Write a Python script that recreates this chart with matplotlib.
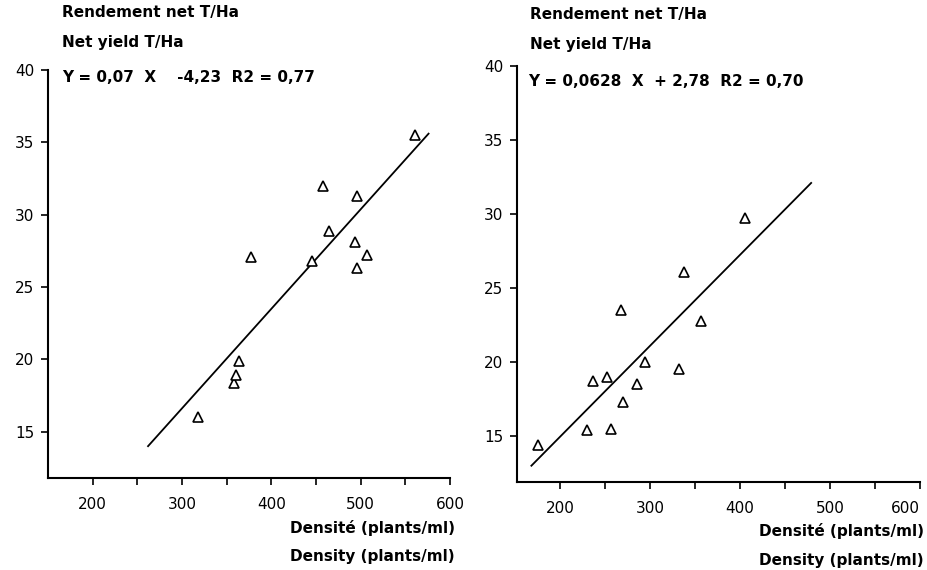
import matplotlib
matplotlib.use("Agg")
import matplotlib.pyplot as plt
from matplotlib.ticker import FixedLocator

# left panel: density vs net yield
left_density = [318, 358, 360, 364, 377, 446, 458, 464, 494, 496, 496, 507, 561]
left_yield = [16.0, 18.4, 18.9, 19.9, 27.1, 26.8, 32.0, 28.9, 28.1, 31.3, 26.3, 27.2, 35.5]
left_fit_x = [262, 576]
left_fit_y = [14.0, 35.6]
left_eq = "Y = 0,07  X    -4,23  R2 = 0,77"

# right panel
right_density = [175, 230, 236, 252, 257, 270, 268, 285, 294, 332, 338, 357, 405]
right_yield = [14.4, 15.4, 18.7, 19.0, 15.5, 17.3, 23.5, 18.5, 20.0, 19.5, 26.1, 22.8, 29.7]
right_fit_x = [168, 479]
right_fit_y = [13.0, 32.1]
right_eq = "Y = 0,0628  X  + 2,78  R2 = 0,70"

x_ticks = [200, 300, 400, 500, 600]
x_minor = [250, 350, 450, 550]
y_ticks = [15, 20, 25, 30, 35, 40]

ylabel_fr = "Rendement net T/Ha"
ylabel_en = "Net yield T/Ha"
xlabel_fr = "Densité (plants/ml)"
xlabel_en = "Density (plants/ml)"

W, H = 928, 570
fig = plt.figure(figsize=(W / 100, H / 100), dpi=100)


def px_axes(x0, y0, x1, y1):
    # pixel box (left, top, right, bottom) -> figure fraction
    return fig.add_axes([x0 / W, 1 - y1 / H, (x1 - x0) / W, (y1 - y0) / H])


def draw_panel(ax, xs, ys, fx, fy, xlim, ylim):
    ax.plot(fx, fy, color="black", lw=1.3)
    ax.plot(xs, ys, linestyle="none", marker="^", markersize=6.5,
            markerfacecolor="white", markeredgecolor="black", markeredgewidth=1.2)
    ax.set_xlim(*xlim)
    ax.set_ylim(*ylim)
    for s in ["top", "right"]:
        ax.spines[s].set_visible(False)
    for s in ["left", "bottom"]:
        ax.spines[s].set_linewidth(1.5)
    ax.set_xticks(x_ticks)
    ax.xaxis.set_minor_locator(FixedLocator(x_minor))
    ax.set_yticks(y_ticks)
    ax.tick_params(axis="both", which="both", direction="out", width=1.2,
                   labelsize=11, colors="black")
    ax.tick_params(axis="x", which="both", length=5, pad=9)
    ax.tick_params(axis="y", length=5, pad=5)


ax1 = px_axes(48, 70, 450, 478)
draw_panel(ax1, left_density, left_yield, left_fit_x, left_fit_y, (150, 600), (11.8, 40))

ax2 = px_axes(517, 66, 920, 482)
draw_panel(ax2, right_density, right_yield, right_fit_x, right_fit_y, (152, 600), (11.9, 40))
ax2.get_xticklabels()[-1].set_horizontalalignment("right")

tk = dict(fontsize=11, fontweight="bold", color="black", va="center")
fig.text(62 / W, 1 - 13 / H, ylabel_fr, ha="left", **tk)
fig.text(62 / W, 1 - 42 / H, ylabel_en, ha="left", **tk)
fig.text(62 / W, 1 - 78 / H, left_eq, ha="left", **tk)
fig.text(455 / W, 1 - 528 / H, xlabel_fr, ha="right", **tk)
fig.text(455 / W, 1 - 557 / H, xlabel_en, ha="right", **tk)

fig.text(530 / W, 1 - 15 / H, ylabel_fr, ha="left", **tk)
fig.text(530 / W, 1 - 45 / H, ylabel_en, ha="left", **tk)
fig.text(528 / W, 1 - 82 / H, right_eq, ha="left", **tk)
fig.text(924 / W, 1 - 531 / H, xlabel_fr, ha="right", **tk)
fig.text(924 / W, 1 - 560 / H, xlabel_en, ha="right", **tk)

fig.savefig("out.png", dpi=100, facecolor="white")
